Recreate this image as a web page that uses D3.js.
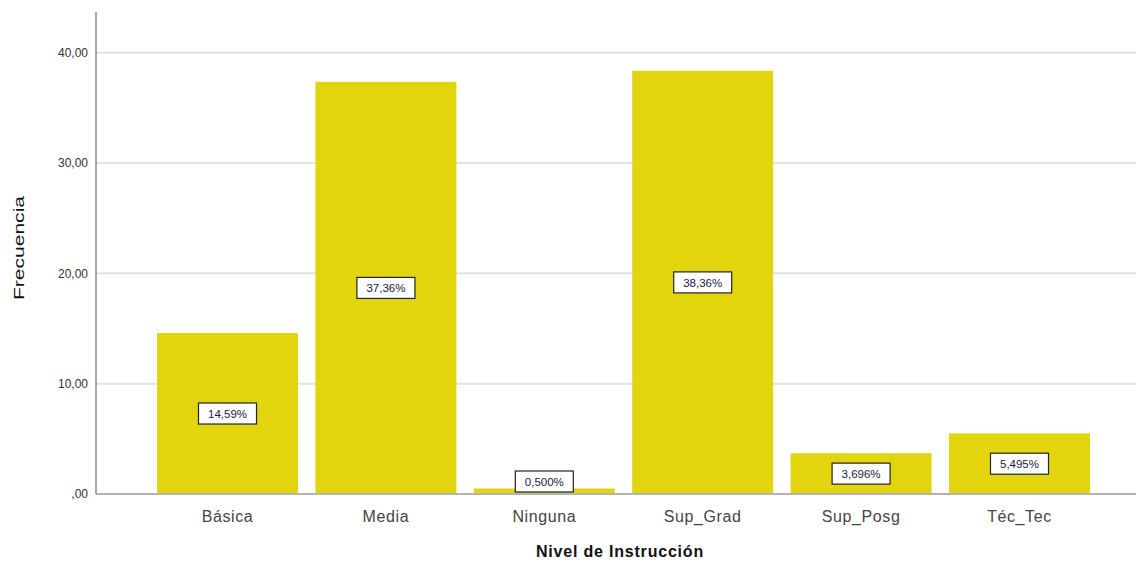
<!DOCTYPE html>
<html><head><meta charset="utf-8">
<script src="https://cdn.jsdelivr.net/npm/d3@7"></script>
<style>body{margin:0;background:#fff;} svg{display:block;}</style>
</head><body>
<svg id="c" width="1136" height="563"></svg>
<script>
const categories = ["Básica","Media","Ninguna","Sup_Grad","Sup_Posg","Téc_Tec"];
const values = [14.59, 37.36, 0.500, 38.36, 3.696, 5.495];
const barLabels = ["14,59%","37,36%","0,500%","38,36%","3,696%","5,495%"];
const yTicks = [0, 10, 20, 30, 40];
const yTickLabels = [",00","10,00","20,00","30,00","40,00"];

const svg = d3.select("#c");
const W = 1136, H = 563;
const y = d3.scaleLinear().domain([0, 43.6]).range([494, 13]);
const x = d3.scaleBand().domain(categories).range([139.6, 1107.4]).paddingInner(0.11).paddingOuter(0.11);
const axisX = 96;

// gridlines
svg.append("g").selectAll("line").data(yTicks.filter(d => d > 0)).join("line")
  .attr("x1", axisX).attr("x2", W).attr("y1", d => y(d)).attr("y2", d => y(d))
  .attr("stroke", "#e2e2e2").attr("stroke-width", 2);

// bars
svg.append("g").selectAll("rect").data(values).join("rect")
  .attr("x", (d, i) => x(categories[i]))
  .attr("width", x.bandwidth())
  .attr("y", d => y(d))
  .attr("height", d => y(0) - y(d))
  .attr("fill", "#e2d40d");

// baseline
svg.append("line").attr("x1", axisX).attr("x2", W).attr("y1", y(0)).attr("y2", y(0))
  .attr("stroke", "#b4b4b4").attr("stroke-width", 2);

// y axis line
svg.append("line").attr("x1", axisX).attr("x2", axisX).attr("y1", 12).attr("y2", y(0))
  .attr("stroke", "#8a8a8a").attr("stroke-width", 1.5);

// y ticks
svg.append("g").selectAll("text").data(yTicks).join("text")
  .attr("x", 88).attr("y", d => y(d)).attr("dy", "0.35em")
  .attr("text-anchor", "end")
  .attr("font-family", "Liberation Sans, Arial, sans-serif").attr("font-size", 12)
  .attr("fill", "#333")
  .text((d, i) => yTickLabels[i]);

// x ticks
svg.append("g").selectAll("text").data(categories).join("text")
  .attr("x", d => x(d) + x.bandwidth() / 2).attr("y", 522)
  .attr("text-anchor", "middle")
  .attr("font-family", "Liberation Sans, Arial, sans-serif").attr("font-size", 16)
  .attr("letter-spacing", 0.6)
  .attr("fill", "#444")
  .text(d => d);

// bar labels
const boxW = 58, boxH = 21;
const lg = svg.append("g").selectAll("g").data(values).join("g")
  .attr("transform", (d, i) => {
    const cx = x(categories[i]) + x.bandwidth() / 2;
    const cy = Math.min(y(d / 2), y(0) - boxH / 2 - 2);
    return `translate(${cx},${cy})`;
  });
lg.append("rect").attr("x", -boxW / 2).attr("y", -boxH / 2).attr("width", boxW).attr("height", boxH)
  .attr("fill", "#fff").attr("stroke", "#222").attr("stroke-width", 1.2);
lg.append("text").attr("text-anchor", "middle").attr("dy", "0.36em")
  .attr("font-family", "Liberation Sans, Arial, sans-serif").attr("font-size", 11.5)
  .attr("fill", "#1a1a40")
  .text((d, i) => barLabels[i]);

// axis titles
svg.append("text").attr("x", 620).attr("y", 557).attr("text-anchor", "middle")
  .attr("font-family", "Liberation Sans, Arial, sans-serif").attr("font-size", 16)
  .attr("font-weight", "bold").attr("letter-spacing", 0.8).attr("fill", "#111")
  .text("Nivel de Instrucción");

svg.append("text").attr("transform", "translate(24,248) rotate(-90)")
  .attr("text-anchor", "middle")
  .attr("font-family", "Liberation Sans, Arial, sans-serif").attr("font-size", 15)
  .attr("textLength", 104).attr("lengthAdjust", "spacingAndGlyphs")
  .attr("fill", "#111")
  .text("Frecuencia");
</script>
</body></html>
